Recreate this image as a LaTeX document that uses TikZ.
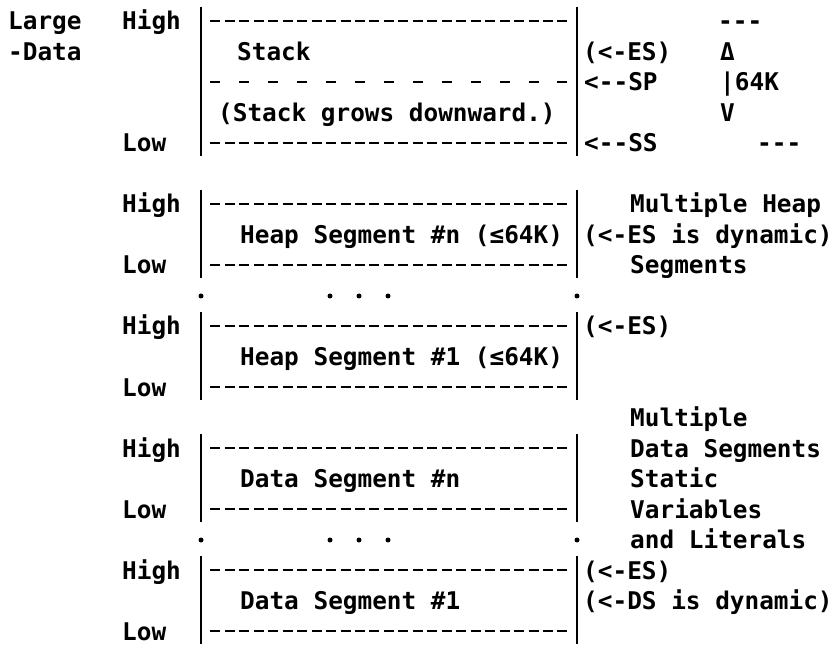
\documentclass[tikz,border=0pt]{standalone}
\usepackage{fontspec}
\newfontfamily\termfont{DejaVu Sans Mono}

\begin{document}
\begin{tikzpicture}[x=0.03cm, y=-0.03cm,
        txt/.style={anchor=base west, inner sep=0pt, font=\termfont\bfseries\fontsize{20.8pt}{24pt}\selectfont},
        heavy/.style={txt},
        bar/.style={line width=0.085cm},
        rule/.style={line width=0.085cm, dash pattern=on 0.3cm off 0.1338cm},
        gaprule/.style={line width=0.085cm, dash pattern=on 0.3cm off 0.5676cm},
        dot/.style={circle, fill, inner sep=0pt, minimum size=0.15cm}]
    \useasboundingbox (0,0) rectangle (838,655);

    % model name
    \node[heavy] (large) at (8,30) {Large};
    \node[heavy] (data) at (8,60.5) {-Data};

    % stack segment
    \node[txt] (hi0) at (122,30) {High};
    \node[txt] (lo0) at (122,152) {Low};
    \draw[bar] (201,7) -- (201,156);
    \draw[bar] (577,7) -- (577,156);
    \draw[rule] (210.4,21) -- (567.6,21);
    \draw[gaprule] (210.4,82) -- (567.6,82);
    \draw[rule] (210.4,143) -- (567.6,143);
    \node[txt] (stack) at (237,60.5) {Stack};
    \node[txt] (grows) at (218,121.5) {(Stack grows downward.)};
    \node[txt] (es0) at (583,60.5) {(<-ES)};
    \node[txt] (sp) at (584,91) {<--SP};
    \node[txt] (ss) at (584,152) {<--SS};
    \node[heavy] (capt) at (718,30) {---};
    \node[heavy] (up) at (720,60.5) {Δ};
    \node[heavy] (size) at (720,91) {|64K};
    \node[heavy] (down) at (720,121.5) {V};
    \node[heavy] (capb) at (757,152) {---};

    % heap segment #n
    \node[txt] (hi1) at (122,213) {High};
    \node[txt] (lo1) at (122,274) {Low};
    \draw[bar] (201,190) -- (201,278);
    \draw[bar] (577,190) -- (577,278);
    \draw[rule] (210.4,204) -- (567.6,204);
    \draw[rule] (210.4,265) -- (567.6,265);
    \node[txt] (heapn) at (240,243.5) {Heap Segment \#n (≤64K)};
    \node[txt] (esdyn) at (583,243.5) {(<-ES is dynamic)};
    \node[heavy] (mheap) at (630,213) {Multiple Heap};
    \node[heavy] (hsegs) at (630,274) {Segments};

    % gap between heap segments
    \node[dot] (hd0) at (201,296) {};
    \node[dot] (hd1) at (330,296) {};
    \node[dot] (hd2) at (359,296) {};
    \node[dot] (hd3) at (388,296) {};
    \node[dot] (hd4) at (577,296) {};

    % heap segment #1
    \node[txt] (hi2) at (122,335) {High};
    \node[txt] (lo2) at (122,396) {Low};
    \draw[bar] (201,312) -- (201,400);
    \draw[bar] (577,312) -- (577,400);
    \draw[rule] (210.4,326) -- (567.6,326);
    \draw[rule] (210.4,387) -- (567.6,387);
    \node[txt] (heap1) at (240,365.5) {Heap Segment \#1 (≤64K)};
    \node[txt] (es1) at (583,335) {(<-ES)};

    % data segment #n
    \node[heavy] (mdata) at (630,426.5) {Multiple};
    \node[txt] (hi3) at (122,457) {High};
    \node[txt] (lo3) at (122,518) {Low};
    \draw[bar] (201,434) -- (201,522);
    \draw[bar] (577,434) -- (577,522);
    \draw[rule] (210.4,448) -- (567.6,448);
    \draw[rule] (210.4,509) -- (567.6,509);
    \node[txt] (datan) at (240,487.5) {Data Segment \#n};
    \node[heavy] (dsegs) at (630,457) {Data Segments};
    \node[txt] (static) at (630,487.5) {Static};
    \node[txt] (vars) at (630,518) {Variables};
    \node[txt] (lits) at (630,548.5) {and Literals};

    % gap between data segments
    \node[dot] (dd0) at (201,540) {};
    \node[dot] (dd1) at (330,540) {};
    \node[dot] (dd2) at (359,540) {};
    \node[dot] (dd3) at (388,540) {};
    \node[dot] (dd4) at (577,540) {};

    % data segment #1
    \node[txt] (hi4) at (122,579) {High};
    \node[txt] (lo4) at (122,640) {Low};
    \draw[bar] (201,556) -- (201,644);
    \draw[bar] (577,556) -- (577,644);
    \draw[rule] (210.4,570) -- (567.6,570);
    \draw[rule] (210.4,631) -- (567.6,631);
    \node[txt] (data1) at (240,609.5) {Data Segment \#1};
    \node[txt] (es2) at (583,579) {(<-ES)};
    \node[txt] (dsdyn) at (583,609.5) {(<-DS is dynamic)};
\end{tikzpicture}
\end{document}
